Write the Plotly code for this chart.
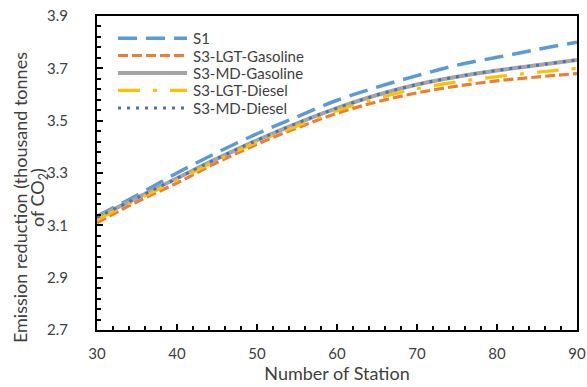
import plotly.graph_objects as go

stations = [30, 35, 40, 45, 50, 55, 60, 65, 70, 75, 80, 85, 90]
s1 =            [3.135, 3.215, 3.30, 3.378, 3.45, 3.515, 3.578, 3.628, 3.672, 3.712, 3.742, 3.772, 3.80]
s3_lgt_gas =    [3.11, 3.19, 3.262, 3.34, 3.41, 3.472, 3.528, 3.572, 3.606, 3.632, 3.652, 3.667, 3.68]
s3_md_gas =     [3.13, 3.205, 3.28, 3.355, 3.425, 3.49, 3.548, 3.598, 3.638, 3.668, 3.692, 3.712, 3.732]
s3_lgt_diesel = [3.12, 3.198, 3.272, 3.348, 3.418, 3.48, 3.538, 3.585, 3.622, 3.648, 3.668, 3.685, 3.70]
s3_md_diesel =  [3.13, 3.205, 3.28, 3.355, 3.425, 3.49, 3.548, 3.598, 3.638, 3.668, 3.692, 3.712, 3.732]
series_names = ["S1", "S3-LGT-Gasoline", "S3-MD-Gasoline", "S3-LGT-Diesel", "S3-MD-Diesel"]
x_ticks = [30, 40, 50, 60, 70, 80, 90]
y_ticks = [2.7, 2.9, 3.1, 3.3, 3.5, 3.7, 3.9]
y_tick_labels = ["2.7", "2.9", "3.1", "3.3", "3.5", "3.7", "3.9"]
y_title_lines = ["Emission reduction (thousand tonnes", "of CO<sub>2</sub>)"]
x_title = "Number of Station"

FONT = "Lato"
TXT = "#404040"
styles = [
    ("#5B9BD5", "19px,9px", 3.5),
    ("#ED7D31", "10px,4px", 3.2),
    ("#A5A5A5", "solid", 4),
    ("#FFC000", "22px,13px,4px,13px", 3.2),
    ("#4472C4", "3px,6px", 3),
]
data = [s1, s3_lgt_gas, s3_md_gas, s3_lgt_diesel, s3_md_diesel]

fig = go.Figure()
for name, ys, (col, dash, w) in zip(series_names, data, styles):
    fig.add_trace(go.Scatter(x=stations, y=ys, name=name, mode="lines", showlegend=False,
                             line=dict(color=col, dash=dash, width=w, shape="spline")))

# custom legend (paper coords of the plot area)
W_PLOT, H_PLOT = 480.0, 314.0
lx0, lx1, tx = 21, 90, 94      # px from plot left
row_y = [22.3, 39.5, 57, 74.3, 92]  # px from plot top
for name, (col, dash, w), ry in zip(series_names, styles, row_y):
    yp = 1 - ry / H_PLOT
    fig.add_shape(type="line", xref="paper", yref="paper",
                  x0=lx0 / W_PLOT, x1=lx1 / W_PLOT, y0=yp, y1=yp,
                  line=dict(color=col, dash=dash, width=w))
    fig.add_annotation(xref="paper", yref="paper", x=tx / W_PLOT, y=yp,
                       xanchor="left", yanchor="middle", text=name, showarrow=False,
                       font=dict(family=FONT, size=15, color=TXT))

# y-axis title, one annotation per line
for line_text, cx in zip(y_title_lines, [-77.0, -59.0]):
    fig.add_annotation(xref="paper", yref="paper", x=cx / W_PLOT, y=0.42,
                       xanchor="center", yanchor="middle", text=line_text, textangle=-90,
                       showarrow=False, font=dict(family=FONT, size=18, color=TXT))

fig.update_layout(
    width=587, height=387,
    margin=dict(l=97, r=10, t=16, b=57, autoexpand=False),
    paper_bgcolor="white", plot_bgcolor="white",
    font=dict(family=FONT, size=15, color=TXT),
    showlegend=False,
    xaxis=dict(range=[30, 90], tickvals=x_ticks, showgrid=False, zeroline=False,
               showline=True, linecolor="black", linewidth=2, mirror=True,
               ticks="inside", ticklen=6, tickwidth=2, tickcolor="black",
               minor=dict(dtick=2, ticks="inside", ticklen=4, tickwidth=2, tickcolor="black"),
               tickfont=dict(size=15, color=TXT), ticklabelstandoff=9,
               ticklabeloverflow="allow", automargin=False,
               title=dict(text=x_title, font=dict(size=18, color=TXT), standoff=6)),
    yaxis=dict(range=[2.7, 3.9], tickvals=y_ticks, ticktext=y_tick_labels,
               showgrid=False, zeroline=False,
               showline=True, linecolor="black", linewidth=2, mirror=True,
               ticks="inside", ticklen=6, tickwidth=2, tickcolor="black",
               minor=dict(dtick=0.04, tick0=2.7, ticks="inside", ticklen=4, tickwidth=2, tickcolor="black"),
               tickfont=dict(size=15, color=TXT), ticklabelstandoff=24,
               ticklabeloverflow="allow", automargin=False),
)
fig.write_html("out.html",
               config={"displayModeBar": False},
               post_script="document.body.style.margin='0px';"
                           "document.documentElement.style.overflow='hidden';")
